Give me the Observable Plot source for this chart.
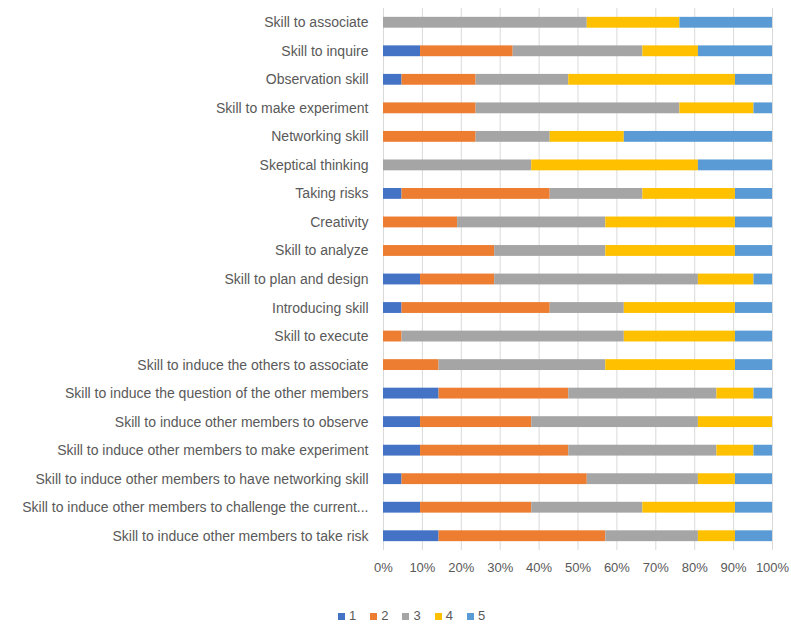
<!DOCTYPE html>
<html><head><meta charset="utf-8">
<script src="https://cdn.jsdelivr.net/npm/d3@7"></script>
<script src="https://cdn.jsdelivr.net/npm/@observablehq/plot@0.6"></script>
<style>
body{margin:0;background:#fff;font-family:"Liberation Sans",sans-serif;position:relative;width:791px;height:626px;overflow:hidden;}
#legend{position:absolute;top:609px;left:338px;display:flex;font-size:13px;color:#595959;line-height:14px;}
#legend .item{display:flex;align-items:center;margin-right:14px;}
#legend .sw{width:7px;height:7px;margin-right:4px;}
</style></head><body><div id="chart"></div><div id="legend"></div>
<script>
const categories = [
  "Skill to associate",
  "Skill to inquire",
  "Observation skill",
  "Skill to make experiment",
  "Networking skill",
  "Skeptical thinking",
  "Taking risks",
  "Creativity",
  "Skill to analyze",
  "Skill to plan and design",
  "Introducing skill",
  "Skill to execute",
  "Skill to induce the others to associate",
  "Skill to induce the question of the other members",
  "Skill to induce other members to observe",
  "Skill to induce other members to make experiment",
  "Skill to induce other members to have networking skill",
  "Skill to induce other members to challenge the current...",
  "Skill to induce other members to take risk"
];
const seriesNames = ["1", "2", "3", "4", "5"];
const seriesColors = ["#4472C4", "#ED7D31", "#A5A5A5", "#FFC000", "#5B9BD5"];
const s1 = [0, 2, 1, 0, 0, 0, 1, 0, 0, 2, 1, 0, 0, 3, 2, 2, 1, 2, 3];
const s2 = [0, 5, 4, 5, 5, 0, 8, 4, 6, 4, 8, 1, 3, 7, 6, 8, 10, 6, 9];
const s3 = [11, 7, 5, 11, 4, 8, 5, 8, 6, 11, 4, 12, 9, 8, 9, 8, 6, 6, 5];
const s4 = [5, 3, 9, 4, 4, 9, 5, 7, 7, 3, 6, 6, 7, 2, 4, 2, 2, 5, 2];
const s5 = [5, 4, 2, 1, 8, 4, 2, 2, 2, 1, 2, 2, 2, 1, 0, 1, 2, 2, 2];
const xTicks = [0, 0.1, 0.2, 0.3, 0.4, 0.5, 0.6, 0.7, 0.8, 0.9, 1];

const seriesValues = [s1, s2, s3, s4, s5];
const data = [];
seriesNames.forEach((s, si) => {
  categories.forEach((c, ci) => data.push({cat: c, series: s, value: seriesValues[si][ci]}));
});

const chart = Plot.plot({
  width: 791,
  height: 595,
  marginTop: 8,
  marginBottom: 45,
  marginLeft: 383,
  marginRight: 19,
  style: {fontFamily: "Liberation Sans", fontSize: "14px", color: "#595959", background: "#fff"},
  x: {domain: [0, 1]},
  y: {domain: categories, paddingInner: 0.62, paddingOuter: 0.31, round: false},
  color: {domain: seriesNames, range: seriesColors},
  marks: [
    Plot.gridX(xTicks, {stroke: "#d9d9d9", strokeOpacity: 1, strokeWidth: 1}),
    Plot.barX(data, Plot.stackX({x: "value", y: "cat", fill: "series", offset: "normalize", order: null})),
    Plot.axisX(xTicks, {tickFormat: d3.format(".0%"), tickSize: 0, tickPadding: 12, fontSize: 13, fill: "#595959", label: null}),
    Plot.axisY({tickSize: 0, tickPadding: 15, fontSize: 14, fill: "#595959", label: null})
  ]
});
document.getElementById("chart").appendChild(chart);

const legend = document.getElementById("legend");
seriesNames.forEach((s, i) => {
  const item = document.createElement("div");
  item.className = "item";
  const sw = document.createElement("span");
  sw.className = "sw";
  sw.style.background = seriesColors[i];
  const lab = document.createElement("span");
  lab.textContent = s;
  item.appendChild(sw);
  item.appendChild(lab);
  legend.appendChild(item);
});
</script>
</body></html>
